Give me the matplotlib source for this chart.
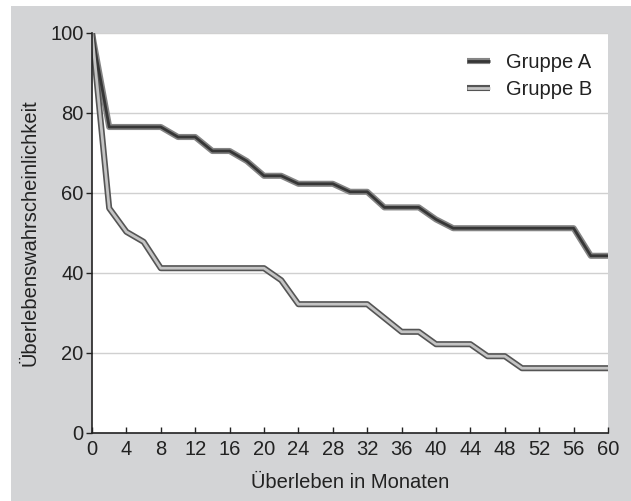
import matplotlib
matplotlib.use('Agg')
import matplotlib.pyplot as plt
from matplotlib.patches import Rectangle
from matplotlib.lines import Line2D

plt.rcParams['font.family'] = ['Liberation Sans', 'DejaVu Sans']

## Kaplan-Meier-artige Kurven
monate_a = [0, 2, 8, 10, 12, 14, 16, 18, 20, 22, 24, 28, 30, 32, 34, 38, 40, 42, 56, 58, 60]
gruppe_a = [100, 76.5, 76.5, 74, 74, 70.5, 70.5, 68, 64.3, 64.3, 62.3, 62.3, 60.3, 60.3, 56.4, 56.4, 53.4, 51.2, 51.2, 44.3, 44.3]

monate_b = [0, 2, 4, 6, 8, 20, 22, 24, 32, 36, 38, 40, 44, 46, 48, 50, 60]
gruppe_b = [100, 56.2, 50.3, 47.8, 41.2, 41.2, 38.2, 32.2, 32.2, 25.3, 25.3, 22.2, 22.2, 19.2, 19.2, 16.2, 16.2]

xticks = list(range(0, 61, 4))
yticks = [0, 20, 40, 60, 80, 100]

fs = 14.5
txt = '#222222'

fig = plt.figure(figsize=(6.31, 5.01), dpi=100)
fig.patch.set_facecolor('white')
fig.patches.append(Rectangle((11/631, 0), 1 - 11/631, 1 - 6/501, transform=fig.transFigure,
                             facecolor='#d3d4d6', edgecolor='none', zorder=-10))

ax = fig.add_axes([92/631, 68/501, 516/631, 400/501])
ax.set_facecolor('white')

# doppelte Linien: aussen / innen
ax.plot(monate_a, gruppe_a, color='#858585', lw=4.4, solid_joinstyle='round', zorder=3)
ax.plot(monate_a, gruppe_a, color='#363636', lw=2.0, solid_joinstyle='round', zorder=4)
ax.plot(monate_b, gruppe_b, color='#555555', lw=4.4, solid_joinstyle='round', zorder=3)
ax.plot(monate_b, gruppe_b, color='#c4c4c4', lw=2.0, solid_joinstyle='round', zorder=4)

ax.set_xlim(0, 60)
ax.set_ylim(0, 100)
ax.set_xticks(xticks)
ax.set_yticks(yticks)
ax.tick_params(axis='x', direction='in', length=4, width=1, labelsize=fs, pad=5, colors=txt)
ax.tick_params(axis='y', direction='out', length=4, width=1, labelsize=fs, pad=2, colors=txt)
ax.grid(axis='y', color='#d0d0d0', lw=1)
ax.set_axisbelow(True)
for s in ['top', 'right']:
    ax.spines[s].set_visible(False)
for s in ['left', 'bottom']:
    ax.spines[s].set_color(txt)
    ax.spines[s].set_linewidth(1.2)
    ax.spines[s].set_zorder(5)

ax.set_xlabel('Überleben in Monaten', fontsize=fs, color=txt, labelpad=10)
ax.set_ylabel('Überlebenswahrscheinlichkeit', fontsize=fs, color=txt, labelpad=8)

h_a = (Line2D([], [], color='#858585', lw=4.4, solid_capstyle='butt'),
       Line2D([], [], color='#363636', lw=2.0, solid_capstyle='butt'))
h_b = (Line2D([], [], color='#555555', lw=4.4, solid_capstyle='butt'),
       Line2D([], [], color='#c4c4c4', lw=2.0, solid_capstyle='butt'))
leg = ax.legend([h_a, h_b], ['Gruppe A', 'Gruppe B'], loc='upper right', frameon=False,
                fontsize=fs, handlelength=1.15, handletextpad=0.8, labelspacing=0.4,
                bbox_to_anchor=(1.005, 0.995))
for t in leg.get_texts():
    t.set_color(txt)

fig.savefig('out.png', dpi=100)
